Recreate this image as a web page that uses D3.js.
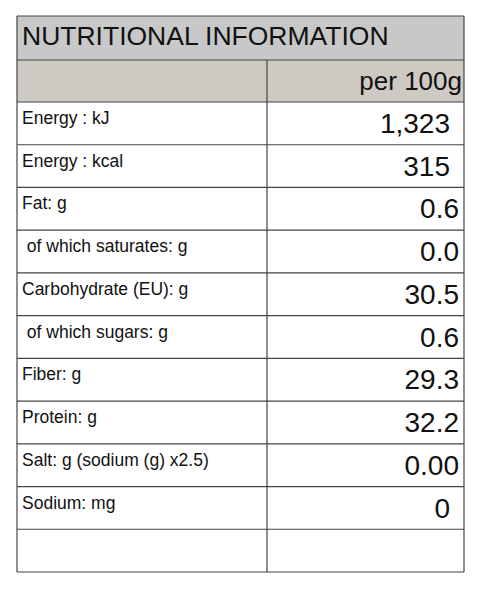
<!DOCTYPE html><html><head><meta charset="utf-8"><script src="https://cdn.jsdelivr.net/npm/d3@7"></script>
<style>body{margin:0;background:#fff}</style></head><body><svg id="c" width="484" height="600"></svg>
<script>
const title = "NUTRITIONAL INFORMATION";
const columnHeader = "per 100g";
const labels = ["Energy : kJ","Energy : kcal","Fat: g"," of which saturates: g","Carbohydrate (EU): g"," of which sugars: g","Fiber: g","Protein: g","Salt: g (sodium (g) x2.5)","Sodium: mg",""];
const values = ["1,323","315","0.6","0.0","30.5","0.6","29.3","32.2","0.00","0",""];
const padded = [true,true,false,false,false,false,false,false,false,true,false];

const svg = d3.select("#c");
const L=17,R=464,M=267,T=16,H1=60,H2=102,B=572;
const y = d3.scaleBand().domain(d3.range(labels.length)).range([H2,B]);
const f = "Liberation Sans, Arial, sans-serif";
svg.append("rect").attr("x",L).attr("y",T).attr("width",R-L).attr("height",H1-T).attr("fill","#c8c8c8");
svg.append("rect").attr("x",L).attr("y",H1).attr("width",R-L).attr("height",H2-H1).attr("fill","#cdcac3");
svg.append("text").attr("x",L+5).attr("y",T+29).attr("font-family",f).attr("font-size",26.5).attr("fill","#111").text(title);
svg.append("text").attr("x",R-2).attr("y",H1+30).attr("text-anchor","end").attr("font-family",f).attr("font-size",26).attr("fill","#111").text(columnHeader);
const g = svg.selectAll("g.row").data(labels).join("g").attr("transform",(d,i)=>`translate(0,${y(i)})`);
g.append("text").attr("x",L+5).attr("y",22).attr("font-family",f).attr("font-size",17.5).attr("fill","#111").attr("xml:space","preserve").text(d=>d);
g.append("text").attr("x",(d,i)=>padded[i]?R-14:R-5).attr("y",31).attr("text-anchor","end").attr("font-family",f).attr("font-size",28).attr("fill","#111").text((d,i)=>values[i]);
const st="#444";
const line=(x1,y1,x2,y2)=>svg.append("line").attr("x1",x1).attr("y1",y1).attr("x2",x2).attr("y2",y2).attr("stroke",st).attr("stroke-width",1.2);
line(L,T,R,T);line(L,H1,R,H1);
labels.forEach((d,i)=>line(L,y(i),R,y(i)));
line(L,B,R,B);line(L,T,L,B);line(R,T,R,B);line(M,H1,M,B);
</script></body></html>
